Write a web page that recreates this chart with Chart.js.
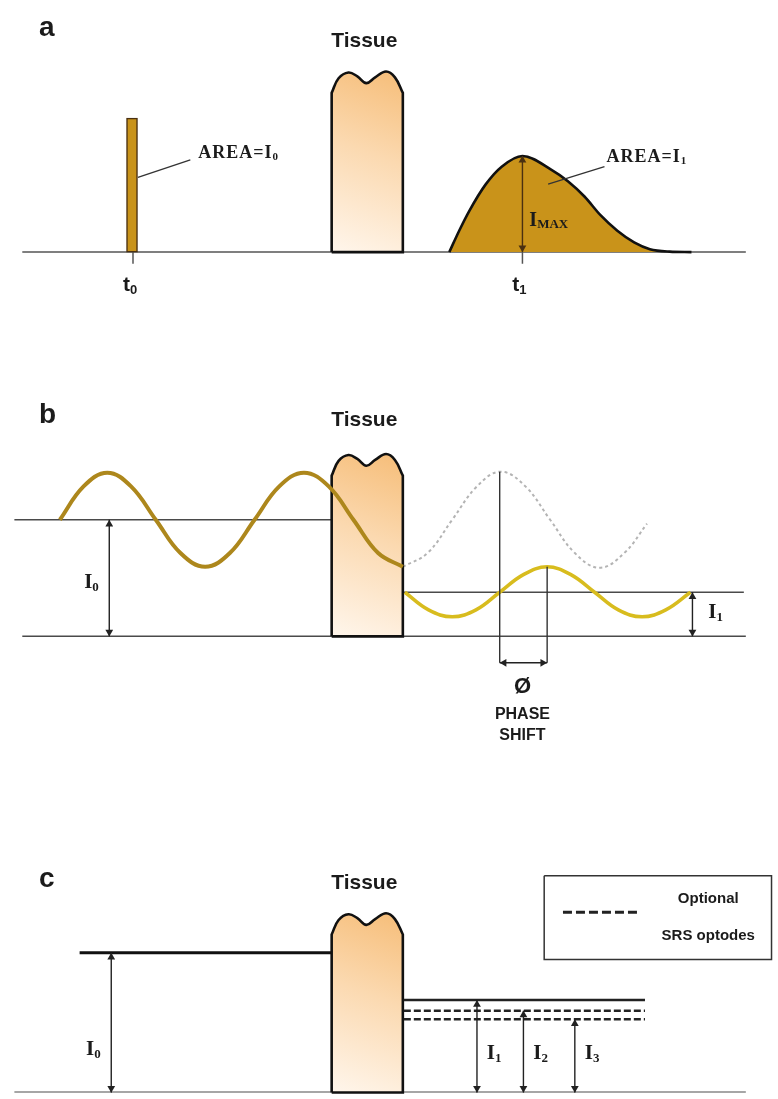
<!DOCTYPE html>
<html>
<head>
<meta charset="utf-8">
<title>Tissue optics schematic</title>
<script src="https://cdn.jsdelivr.net/npm/chart.js@4.4.1/dist/chart.umd.min.js"></script>
<style>
  html, body { margin: 0; padding: 0; background: #fff; }
  #wrap { position: relative; width: 778px; height: 1099px; }
  #wrap canvas { position: absolute; left: 0; }
</style>
</head>
<body>
<div id="wrap">
  <canvas id="panel-a" width="778" height="310" style="top:0px"></canvas>
  <canvas id="panel-b" width="778" height="450" style="top:330px"></canvas>
  <canvas id="panel-c" width="778" height="249" style="top:850px"></canvas>
</div>
<script>
// x = position across the figure, y = light intensity (a.u., 0 = baseline)

// --- a: time domain (pulse in, broadened pulse out)
const aTickTimes = [130, 524];
const aTickSubs = ['0', '1'];
const aInputPulse = [{ x: 129, y: 1.38 }];
const aOutputPulse = [
  { x: 450, y: 0 }, { x: 460, y: 0.22 }, { x: 470, y: 0.42 }, { x: 487, y: 0.70 },
  { x: 503, y: 0.88 }, { x: 524, y: 0.99 }, { x: 553, y: 0.85 }, { x: 570, y: 0.73 },
  { x: 587, y: 0.57 }, { x: 603, y: 0.38 }, { x: 620, y: 0.22 }, { x: 637, y: 0.10 },
  { x: 653, y: 0.03 }, { x: 673, y: 0.005 }, { x: 695, y: 0 }
];
const aPeakTime = 524;
const aPeakValue = 0.99;

// tissue block outline (same in every panel); repeated points keep corners sharp
const tissueOutline = [
  { x: 331, y: 0 }, { x: 331, y: 0 }, { x: 331, y: 1.64 }, { x: 331, y: 1.64 },
  { x: 338, y: 1.79 }, { x: 348, y: 1.85 }, { x: 357, y: 1.81 }, { x: 366, y: 1.74 },
  { x: 375, y: 1.80 }, { x: 386, y: 1.86 }, { x: 395, y: 1.80 },
  { x: 403, y: 1.64 }, { x: 403, y: 1.64 },
  { x: 403, y: 0 }, { x: 403, y: 0 }, { x: 331, y: 0 }, { x: 331, y: 0 }
];

// --- b: frequency domain
const bDcIn = 1.19;
const bDcOut = 0.45;
const bIncident = [
  { x: 56, y: 1.19 }, { x: 80, y: 1.53 }, { x: 104, y: 1.67 }, { x: 128, y: 1.53 },
  { x: 153, y: 1.19 }, { x: 178, y: 0.85 }, { x: 203, y: 0.71 }, { x: 228, y: 0.85 },
  { x: 253, y: 1.19 }, { x: 278, y: 1.53 }, { x: 303, y: 1.67 }, { x: 328, y: 1.53 },
  { x: 353, y: 1.19 }, { x: 378, y: 0.85 }, { x: 403, y: 0.71 }
];
const bUnattenuated = [
  { x: 403, y: 0.71 }, { x: 428, y: 0.85 }, { x: 453, y: 1.19 }, { x: 478, y: 1.53 },
  { x: 502, y: 1.68 }, { x: 527, y: 1.53 }, { x: 552, y: 1.19 }, { x: 577, y: 0.85 },
  { x: 602, y: 0.70 }, { x: 627, y: 0.85 }, { x: 650, y: 1.15 }
];
const bTransmitted = [
  { x: 405, y: 0.45 }, { x: 429, y: 0.27 }, { x: 453, y: 0.20 }, { x: 477, y: 0.27 },
  { x: 501, y: 0.45 }, { x: 525, y: 0.63 }, { x: 549, y: 0.71 }, { x: 573, y: 0.63 },
  { x: 597, y: 0.45 }, { x: 621, y: 0.27 }, { x: 645, y: 0.20 }, { x: 669, y: 0.27 },
  { x: 694, y: 0.45 }
];
const bPhaseX = [501, 549];
const bPhaseTop = [1.68, 0.71];

// --- c: continuous wave
const cIncident = 1.45;
const cDetected = [0.96, 0.85, 0.76];
const cDetectorX = [478, 525, 577];
const cDetectorSubs = ['1', '2', '3'];

// ---------------- drawing helpers ----------------
const Y_PER_PX = 0.01;   // every panel is drawn at 100 px per intensity unit
const HEAD = 4.5;
const INK = '#1b1b1b';
const GREY = '#4a4a4a';
const SANS = "'Liberation Sans', Arial, sans-serif";
const SERIF = "'Liberation Serif', 'Times New Roman', serif";
const LETTER = 'bold 28px ' + SANS;
const TITLE = 'bold 21px ' + SANS;

function seg(points, color, width, dash) {
  return {
    type: 'line', data: points, borderColor: color, borderWidth: width,
    borderDash: dash || [], pointRadius: 0, fill: false, tension: 0
  };
}
function hLine(x1, x2, y, color, width, dash) {
  return seg([{ x: x1, y }, { x: x2, y }], color, width, dash);
}
function vLine(x, y1, y2, color, width) {
  return seg([{ x, y: y1 }, { x, y: y2 }], color, width);
}
function wave(points, color, width, dash) {
  return {
    type: 'line', data: points, borderColor: color, borderWidth: width,
    borderDash: dash || [], tension: 0.4, pointRadius: 0, fill: false
  };
}
function arrow(x1, y1, x2, y2, color) {
  const vertical = x1 === x2;
  const heads = [[x1, y1, x1 - x2, y1 - y2], [x2, y2, x2 - x1, y2 - y1]].map(([x, y, dx, dy]) =>
    vertical
      ? { x, y: y - Math.sign(dy) * HEAD * Y_PER_PX, rot: dy > 0 ? 0 : 180 }
      : { x: x - Math.sign(dx) * HEAD, y, rot: dx > 0 ? 90 : 270 });
  return [
    seg([{ x: x1, y: y1 }, { x: x2, y: y2 }], color, 1.4),
    {
      type: 'line', data: heads, showLine: false, pointStyle: 'triangle',
      pointRadius: HEAD, pointRotation: heads.map(h => h.rot),
      pointBackgroundColor: color, pointBorderWidth: 0
    }
  ];
}
function tissueFill(c) {
  const { chart } = c;
  const { x, y } = chart.scales;
  const fallback = '#fcd9ad';
  if (!chart.chartArea || !x || !y) return fallback;
  const xs = tissueOutline.map(p => p.x), ys = tissueOutline.map(p => p.y);
  const px = [
    x.getPixelForValue(Math.max(...xs)), y.getPixelForValue(Math.max(...ys)),
    x.getPixelForValue(Math.min(...xs)), y.getPixelForValue(0)
  ];
  if (!px.every(Number.isFinite)) return fallback;
  const g = chart.ctx.createLinearGradient(...px);
  g.addColorStop(0, '#f6bd78');
  g.addColorStop(0.45, '#fbd9b0');
  g.addColorStop(1, '#fff6ec');
  return g;
}
function tissue() {
  return {
    type: 'line', data: tissueOutline, borderColor: '#111', borderWidth: 2.6,
    pointRadius: 0, tension: 0.4, fill: 'shape', backgroundColor: tissueFill
  };
}

const panelText = {
  id: 'panelText',
  afterDatasetsDraw(chart, args, opts) {
    const { ctx } = chart;
    const { x: xs, y: ys } = chart.scales;
    ctx.save();
    ctx.textBaseline = 'middle';
    ctx.fillStyle = INK;
    for (const t of opts.items || []) {
      ctx.letterSpacing = t.spacing || '0px';
      ctx.font = t.font;
      const mainW = ctx.measureText(t.text).width;
      let subW = 0;
      if (t.sub) { ctx.font = t.subFont; subW = ctx.measureText(t.sub).width; }
      let px = xs.getPixelForValue(t.x);
      const py = ys.getPixelForValue(t.y);
      if (t.align === 'center') px -= (mainW + subW) / 2;
      ctx.font = t.font;
      ctx.fillText(t.text, px, py);
      if (t.sub) {
        ctx.font = t.subFont;
        ctx.fillText(t.sub, px + mainW, py + (t.subDy || 5));
      }
    }
    ctx.restore();
  }
};

function panel(id, yMin, yMax, datasets, items) {
  datasets.forEach((d, i) => { d.order = -i; });   // later in the list = drawn on top
  return new Chart(document.getElementById(id), {
    type: 'line',
    data: { datasets },
    options: {
      responsive: false,
      animation: false,
      events: [],
      layout: { padding: 0 },
      scales: {
        x: { type: 'linear', min: 0, max: 778, display: false, offset: false },
        y: { type: 'linear', min: yMin, max: yMax, display: false }
      },
      elements: { point: { radius: 0 } },
      plugins: {
        legend: { display: false },
        tooltip: { enabled: false },
        panelText: { items }
      }
    },
    plugins: [panelText]
  });
}

const serifLabel = (sub, x, y, align) => ({
  text: 'I', sub, x, y, align, font: 'bold 21px ' + SERIF, subFont: 'bold 13px ' + SERIF, subDy: 5
});
const areaLabel = (sub, x, y) => ({
  text: 'AREA=I', sub, x, y, font: 'bold 18px ' + SERIF, subFont: 'bold 11px ' + SERIF, subDy: 4, spacing: '1px'
});

// ---------------- panel a ----------------
panel('panel-a', -0.55, 2.55, [
  hLine(18, 750, 0, '#555', 1.5),
  ...aTickTimes.map(t => vLine(t, 0, -0.12, '#555', 1.5)),
  tissue(),
  {
    type: 'bar', data: aInputPulse, barThickness: 11, backgroundColor: '#c9931a',
    borderColor: '#4a3010', borderWidth: 1.5, borderSkipped: false
  },
  {
    type: 'line', data: aOutputPulse, cubicInterpolationMode: 'monotone',
    fill: 'origin', backgroundColor: '#c9931a', borderColor: '#111', borderWidth: 2.6, pointRadius: 0
  },
  ...arrow(aPeakTime, 0, aPeakTime, aPeakValue, '#4a3010'),
  seg([{ x: 135, y: 0.77 }, { x: 188, y: 0.95 }], '#333', 1.3),
  seg([{ x: 550, y: 0.70 }, { x: 607, y: 0.88 }], '#333', 1.3)
], [
  { text: 'a', x: 35, y: 2.31, font: LETTER },
  { text: 'Tissue', x: 364, y: 2.17, font: TITLE, align: 'center' },
  areaLabel('0', 196, 1.02),
  areaLabel('1', 609, 0.98),
  { text: 'I', sub: 'MAX', x: 531, y: 0.32, font: 'bold 20px ' + SERIF, subFont: 'bold 13px ' + SERIF, subDy: 4 },
  ...aTickTimes.map((t, i) => ({
    text: 't', sub: aTickSubs[i], x: t - 3, y: -0.34, align: 'center',
    font: 'bold 21px ' + SANS, subFont: 'bold 13px ' + SANS, subDy: 5
  }))
]);

// ---------------- panel b ----------------
panel('panel-b', -1.42, 3.08, [
  hLine(18, 750, 0, GREY, 1.5),
  hLine(10, 331, bDcIn, GREY, 1.5),
  hLine(403, 748, bDcOut, GREY, 1.5),
  wave(bUnattenuated, '#b4b4b4', 2, [3, 3]),
  tissue(),
  wave(bIncident, '#ad871c', 4),
  wave(bTransmitted, '#d8bc1e', 3.5),
  ...bPhaseX.map((x, i) => vLine(x, bPhaseTop[i], -0.27, '#333', 1.4)),
  ...arrow(bPhaseX[0], -0.27, bPhaseX[1], -0.27, '#222'),
  ...arrow(106, 0, 106, bDcIn, '#222'),
  ...arrow(696, 0, 696, bDcOut, '#222')
], [
  { text: 'b', x: 35, y: 2.26, font: LETTER },
  { text: 'Tissue', x: 364, y: 2.21, font: TITLE, align: 'center' },
  serifLabel('0', 88, 0.55, 'center'),
  serifLabel('1', 712, 0.24, 'left'),
  { text: 'Ø', x: 524, y: -0.52, font: 'bold 22px ' + SANS, align: 'center' },
  { text: 'PHASE', x: 524, y: -0.80, font: 'bold 16px ' + SANS, align: 'center' },
  { text: 'SHIFT', x: 524, y: -1.01, font: 'bold 16px ' + SANS, align: 'center' }
]);

// ---------------- panel c ----------------
panel('panel-c', -0.02, 2.47, [
  hLine(10, 750, 0.005, '#888', 1.5),
  tissue(),
  hLine(76, 331, cIncident, '#111', 3),
  hLine(404, 648, cDetected[0], '#222', 2.5),
  hLine(404, 648, cDetected[1], '#222', 2.5, [7, 3]),
  hLine(404, 648, cDetected[2], '#222', 2.5, [7, 3]),
  ...arrow(108, 0, 108, cIncident, '#222'),
  ...cDetectorX.flatMap((x, i) => arrow(x, 0, x, cDetected[i], '#222')),
  seg([{ x: 546, y: 2.25 }, { x: 776, y: 2.25 }, { x: 776, y: 1.38 }, { x: 546, y: 1.38 }, { x: 546, y: 2.25 }], '#333', 1.5),
  hLine(565, 640, 1.87, '#222', 3, [9, 4])
], [
  { text: 'c', x: 35, y: 2.21, font: LETTER },
  { text: 'Tissue', x: 364, y: 2.17, font: TITLE, align: 'center' },
  serifLabel('0', 90, 0.45, 'center'),
  ...cDetectorX.map((x, i) => serifLabel(cDetectorSubs[i], x + 10, 0.40, 'left')),
  { text: 'Optional', x: 712, y: 2.01, font: 'bold 15px ' + SANS, align: 'center' },
  { text: 'SRS optodes', x: 712, y: 1.63, font: 'bold 15px ' + SANS, align: 'center' }
]);
</script>
</body>
</html>
